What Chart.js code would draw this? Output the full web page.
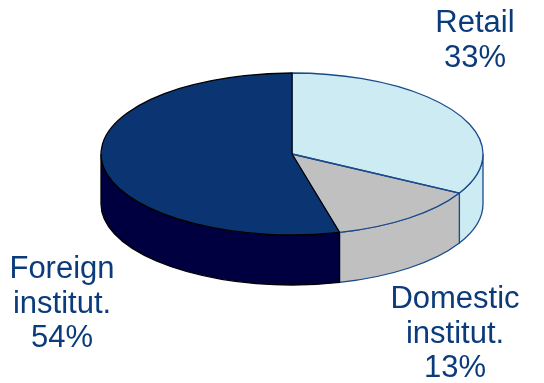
<!DOCTYPE html>
<html>
<head>
<meta charset="utf-8">
<script src="https://cdn.jsdelivr.net/npm/chart.js@4.4.1/dist/chart.umd.min.js"></script>
<style>
  html, body { margin: 0; padding: 0; background: #fff; }
  canvas { display: block; }
</style>
</head>
<body>
<canvas id="myChart" width="544" height="383"></canvas>
<script>
// shareholder split, clockwise from 12 o'clock
const categories = ['Retail', 'Domestic institut.', 'Foreign institut.'];
const shares = [33, 13, 54];

// look
const topColors = ['#CCEBF3', '#C0C0C0', '#0A3572'];
const sideColors = ['#CCEBF3', '#C0C0C0', '#000040'];
const edgeColors = ['#1A4A8A', '#1A4A8A', '#000000'];
const textColor = '#0B3B7B';

// ellipse the pie is projected onto
const CX = 292, CY = 154, RX = 191, RY = 81, DEPTH = 50;

// where each label block is centred, first baseline, line step
const labelPos = [
  { x: 475, y: 32 },
  { x: 455, y: 308 },
  { x: 62, y: 278 }
];
const LINE = 34.5;

const pie3d = {
  id: 'pie3d',
  beforeDatasetsDraw(chart) {
    const ctx = chart.ctx;
    const arcs = chart.getDatasetMeta(0).data;

    // side walls, only the front half (0..PI) is visible
    ctx.save();
    ctx.lineWidth = 1.3;
    arcs.forEach((arc, i) => {
      const s = Math.max(arc.startAngle, 0);
      const e = Math.min(arc.endAngle, Math.PI);
      if (e <= s) return;
      ctx.beginPath();
      ctx.ellipse(CX, CY, RX, RY, 0, s, e);
      ctx.ellipse(CX, CY + DEPTH, RX, RY, 0, e, s, true);
      ctx.closePath();
      ctx.fillStyle = sideColors[i];
      ctx.fill();
      ctx.strokeStyle = edgeColors[i];
      ctx.stroke();
    });
    ctx.restore();

    // squash the library's round pie into the top ellipse
    const a0 = arcs[0];
    ctx.save();
    ctx.translate(CX, CY);
    ctx.scale(RX / a0.outerRadius, RY / a0.outerRadius);
    ctx.translate(-a0.x, -a0.y);
  },
  afterDatasetsDraw(chart) {
    const ctx = chart.ctx;
    ctx.restore();
    const arcs = chart.getDatasetMeta(0).data;

    // outlines of the top faces, dark slice last so its edge wins
    ctx.save();
    ctx.lineWidth = 1.3;
    ctx.lineJoin = 'round';
    arcs.forEach((arc, i) => {
      ctx.beginPath();
      ctx.moveTo(CX, CY);
      ctx.ellipse(CX, CY, RX, RY, 0, arc.startAngle, arc.endAngle);
      ctx.closePath();
      ctx.strokeStyle = edgeColors[i];
      ctx.stroke();
    });
    ctx.restore();
  },
  afterDraw(chart) {
    const ctx = chart.ctx;
    const total = shares.reduce((a, b) => a + b, 0);
    ctx.save();
    ctx.font = '31px "Liberation Sans", Arial, sans-serif';
    ctx.fillStyle = textColor;
    ctx.textAlign = 'center';
    ctx.textBaseline = 'alphabetic';
    categories.forEach((name, i) => {
      const lines = name.split(' ');
      lines.push(Math.round(shares[i] / total * 100) + '%');
      lines.forEach((t, j) => {
        ctx.fillText(t, labelPos[i].x, labelPos[i].y + j * LINE);
      });
    });
    ctx.restore();
  }
};

const data = {
  labels: categories,
  datasets: [{
    data: shares,
    backgroundColor: topColors,
    borderWidth: 0,
    hoverOffset: 0,
    clip: false
  }]
};

const config = {
  type: 'pie',
  data,
  options: {
    responsive: false,
    animation: false,
    events: [],
    plugins: {
      legend: { display: false },
      tooltip: { enabled: false }
    }
  },
  plugins: [pie3d]
};

const myChart = new Chart(document.getElementById('myChart'), config);
</script>
</body>
</html>
